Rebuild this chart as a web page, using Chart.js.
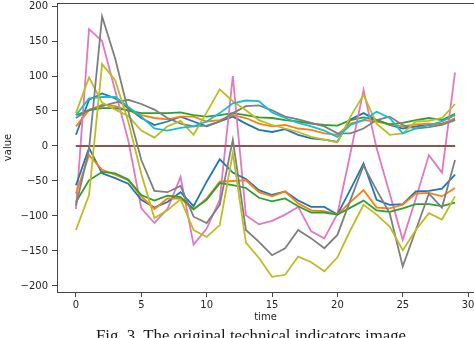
<!DOCTYPE html>
<html>
<head>
<meta charset="utf-8">
<script src="https://cdn.jsdelivr.net/npm/chart.js@4.4.1/dist/chart.umd.min.js"></script>
<style>
  body { margin: 0; width: 474px; height: 338px; overflow: hidden; background: #fff; position: relative; }
  #chart { position: absolute; left: 0; top: 0; }
  .caption {
    position: absolute; left: 96px; top: 328px;
    font-family: "Liberation Serif", serif; font-size: 16.8px; line-height: 16px;
    color: #1a1a1a; white-space: nowrap;
  }
</style>
</head>
<body>
<canvas id="chart" width="474" height="338"></canvas>
<div class="caption">Fig. 3. The original technical indicators image</div>
<script>
// time steps and ticks
const time = [0,1,2,3,4,5,6,7,8,9,10,11,12,13,14,15,16,17,18,19,20,21,22,23,24,25,26,27,28,29];
const xTicks = [0, 5, 10, 15, 20, 25, 30];
const yTicks = [-200, -150, -100, -50, 0, 50, 100, 150, 200];

// first group (mostly positive)
const blueUp   = [16,66,75,68,54,40,30,35,42,35,28,35,42,32,23,20,24,16,11,9,6,38,47,37,30,25,28,30,32,38];
const orangeUp = [28,51,59,57,51,44,40,38,42,42,35,37,44,40,32,28,30,25,23,18,16,32,37,35,31,28,31,32,31,40];
const greenUp  = [44,51,54,54,51,47,47,47,48,44,42,44,47,44,41,40,37,35,32,30,29,37,41,37,31,33,37,40,37,46];
const zeros    = [0,0,0,0,0,0,0,0,0,0,0,0,0,0,0,0,0,0,0,0,0,0,0,0,0,0,0,0,0,0];
const pink     = [-90,167,150,79,8,-89,-110,-90,-44,-141,-118,-77,100,-99,-112,-107,-98,-87,-122,-132,-97,-10,80,-3,-68,-134,-75,-13,-38,105];
const grayUp   = [40,52,57,62,66,60,52,40,32,28,29,35,47,57,58,51,42,38,33,28,18,18,25,37,42,30,25,27,30,37];
const oliveUp  = [47,98,62,52,43,22,12,28,36,16,48,81,64,51,37,30,25,20,13,9,5,42,73,32,16,18,35,36,40,60];
const cyanUp   = [44,68,70,70,56,42,25,22,26,28,35,47,61,65,64,48,40,33,28,22,13,30,37,49,40,18,25,30,35,44];

// second group (mostly negative)
const blueLow   = [-56,-3,-39,-46,-54,-77,-88,-80,-66,-86,-51,-19,-38,-47,-63,-70,-65,-78,-87,-87,-98,-62,-25,-77,-84,-83,-65,-64,-61,-41];
const orangeLow = [-68,-13,-34,-41,-49,-72,-90,-75,-75,-91,-75,-51,-50,-49,-66,-72,-65,-82,-92,-93,-98,-80,-63,-88,-89,-84,-68,-67,-72,-60];
const greenLow  = [-80,-49,-37,-39,-48,-70,-78,-71,-73,-90,-77,-53,-56,-60,-74,-79,-75,-86,-95,-95,-98,-88,-78,-92,-94,-89,-83,-83,-86,-81];
const grayLow   = [-85,-5,185,125,50,-20,-64,-66,-57,-101,-110,-84,9,-120,-137,-156,-146,-120,-132,-146,-127,-77,-28,-63,-96,-172,-120,-68,-88,-20];
const oliveLow  = [-120,-70,117,94,35,-40,-103,-92,-76,-120,-130,-113,-10,-138,-160,-187,-184,-158,-166,-179,-159,-120,-84,-98,-115,-149,-120,-96,-105,-72];

const tab = {
    blue:'#1f77b4', orange:'#ff7f0e', green:'#2ca02c', red:'#d62728', purple:'#9467bd',
    brown:'#8c564b', pink:'#e377c2', gray:'#7f7f7f', olive:'#bcbd22', cyan:'#17becf'
};

// plotted in matplotlib order, later ones on top
const lines = [
    [blueUp, tab.blue], [orangeUp, tab.orange], [greenUp, tab.green],
    [zeros, tab.red], [zeros, tab.purple], [zeros, tab.brown],
    [pink, tab.pink], [grayUp, tab.gray], [oliveUp, tab.olive], [cyanUp, tab.cyan],
    [blueLow, tab.blue], [orangeLow, tab.orange], [greenLow, tab.green],
    [zeros, tab.red], [zeros, tab.purple], [zeros, tab.brown],
    [grayLow, tab.gray], [oliveLow, tab.olive]
];

const datasets = lines.map(([values, color]) => ({
    data: values.map((v, i) => ({x: time[i], y: v})),
    borderColor: color,
    borderWidth: 1.8,
    pointRadius: 0,
    tension: 0,
    fill: false
})).reverse(); // chart.js paints index 0 last

const tickFont = {family: 'DejaVu Sans', size: 10};
const ink = '#262626';
const spine = '#444';

// top spine like matplotlib's frame
const frame = {
    id: 'frame',
    afterDatasetsDraw(chart){
        const {ctx, chartArea} = chart;
        ctx.save();
        ctx.strokeStyle = spine;
        ctx.lineWidth = 1;
        ctx.beginPath();
        ctx.moveTo(chartArea.left, chartArea.top + 0.5);
        ctx.lineTo(chartArea.right, chartArea.top + 0.5);
        ctx.stroke();
        ctx.restore();
    }
};

new Chart(document.getElementById('chart'), {
    type: 'line',
    data: {datasets},
    plugins: [frame],
    options: {
        responsive: false,
        animation: false,
        devicePixelRatio: 1,
        layout: {padding: {left: 0, right: 0, top: 3, bottom: 13}},
        plugins: {legend: {display: false}, tooltip: {enabled: false}},
        scales: {
            x: {
                type: 'linear',
                min: -1.45,
                max: 30.45,
                afterBuildTicks: s => { s.ticks = xTicks.map(v => ({value: v})); },
                afterFit: s => { s.height = 33; s.paddingLeft = 0; s.paddingRight = 0; },
                ticks: {font: tickFont, color: ink, padding: 2, maxRotation: 0, autoSkip: false},
                grid: {display: true, drawOnChartArea: false, drawTicks: true, tickLength: 5, color: spine},
                border: {display: true, color: spine, width: 1},
                title: {display: true, text: 'time', font: tickFont, color: ink, padding: {top: 0, bottom: 2}}
            },
            y: {
                type: 'linear',
                min: -208.6,
                max: 204.3,
                afterBuildTicks: s => { s.ticks = yTicks.map(v => ({value: v})); },
                afterFit: s => { s.width = 57; s.paddingTop = 0; s.paddingBottom = 0; },
                ticks: {
                    font: tickFont, color: ink, padding: 4,
                    callback: v => v < 0 ? '\u2212' + Math.abs(v) : String(v)
                },
                grid: {display: true, drawOnChartArea: false, drawTicks: true, tickLength: 5, color: spine},
                border: {display: true, color: spine, width: 1},
                title: {display: true, text: 'value', font: tickFont, color: ink, padding: {top: 2, bottom: 0}}
            }
        }
    }
});
</script>
</body>
</html>
